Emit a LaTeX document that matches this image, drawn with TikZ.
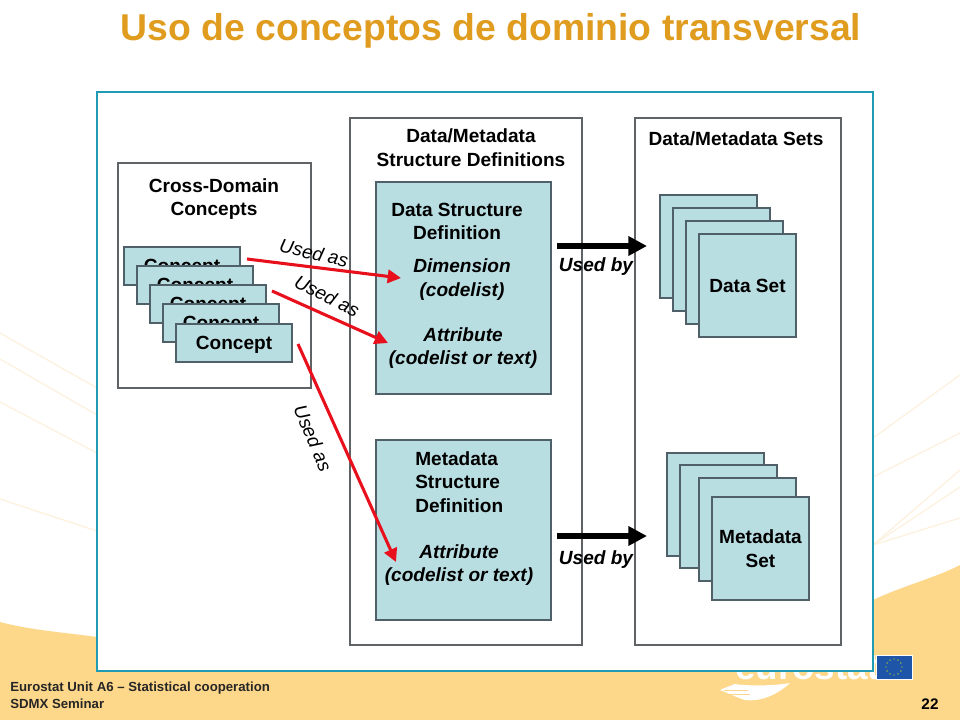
\documentclass[tikz,border=0pt]{standalone}
\usepackage{fontspec}
\setmainfont{Liberation Sans}
\usetikzlibrary{arrows.meta,shapes.geometric}
\definecolor{titleor}{HTML}{E09C1E}
\definecolor{bandor}{HTML}{FDD78A}
\definecolor{frameteal}{HTML}{1F9CB4}
\definecolor{boxfill}{HTML}{B9DEE2}
\definecolor{boxedge}{HTML}{4F6068}
\definecolor{outeredge}{HTML}{606366}
\definecolor{faint}{HTML}{FDF1DE}
\definecolor{eublue}{HTML}{1F55A8}
\definecolor{arrowred}{HTML}{E8101C}
\tikzset{
  x=.75pt,y=-.75pt,
  sized/.style 2 args={anchor=north west,inner sep=0pt,outer sep=0pt,minimum width=#1*.75pt,minimum height=#2*.75pt},
  outerbox/.style={draw=outeredge,line width=.85pt,fill=white},
  bluebox/.style={draw=boxedge,line width=.8pt,fill=boxfill,font=\fontsize{14.3}{17.6}\selectfont\bfseries,align=center,text depth=0pt},
  lbl/.style={font=\fontsize{14.3}{17.6}\selectfont\bfseries,align=center,inner sep=0pt},
  ilbl/.style={font=\fontsize{14.3}{17.6}\selectfont\bfseries\itshape,align=center,inner sep=0pt},
  usedas/.style={font=\fontsize{14.3}{16}\selectfont\itshape,inner sep=0pt},
  redarrow/.style={draw=arrowred,line width=2.3pt,-{Triangle[length=10pt,width=10pt]}},
  blackarrow/.style={draw=black,line width=4.5pt,-{Triangle[length=14pt,width=14pt]}},
  faintline/.style={draw=faint,line width=.9pt},
  footer/.style={font=\fontsize{9.9}{11}\selectfont\bfseries,anchor=west,inner sep=0pt,text=black!85},
}
\begin{document}
\begin{tikzpicture}
\useasboundingbox (0,0) rectangle (960,720);
\fill[white] (0,0) rectangle (960,720);
% background
\foreach \a/\b/\c/\d in {0/333/97/388,0/359/97/415,0/402/97/453,0/499/97/531,873/438/960/375,873/477/960/433,873/545/960/470,873/545/960/487,873/545/960/518}
  \draw[faintline] (\a,\b) -- (\c,\d);
\fill[bandor] (0,622) .. controls (30,630) and (60,632) .. (97,637) -- (873,600) .. controls (905,585) and (935,578) .. (960,565) -- (960,720) -- (0,720) -- cycle;
% eurostat logo
\node[anchor=base west,inner sep=0pt,text=white,font=\fontsize{27.5}{29}\selectfont\bfseries] (logo) at (735,679) {eurostat};
\fill[white] (790,683) .. controls (775,686) and (745,686) .. (735,684) .. controls (730,686) and (724,688) .. (720,690) .. controls (730,694) and (738,698) .. (745,700) .. controls (762,702) and (778,694) .. (790,683) -- cycle;
\draw[bandor,line width=.6pt] (724,690) -- (748,690) (729,694) -- (750,694);
\node[sized={36}{24},fill=eublue,draw=white,line width=.4pt] (flag) at (876,655) {};
\foreach \k in {0,30,...,330}
  \fill[yellow!75!green] (894,667) ++(\k:6pt) circle (.55pt);
% frame
\node[sized={776}{579},draw=frameteal,line width=.9pt,fill=white] (frame) at (97,92) {};
% title
\node[inner sep=0pt,anchor=base,text=titleor,font=\fontsize{28}{30}\selectfont\bfseries] (title) at (491,41) {Uso de conceptos de dominio transversal};
% containers
\node[sized={193}{225},outerbox] (cross) at (118,163) {};
\node[sized={232}{527},outerbox] (defs) at (350,118) {};
\node[sized={206}{527},outerbox] (sets) at (635,118) {};
\node[lbl] (crosst) at (214,199) {Cross-Domain\\Concepts};
\node[lbl] (defst) at (471,147.5) {Data/Metadata\\Structure Definitions};
\node[lbl] (setst) at (736,139) {Data/Metadata Sets};
% concepts
\node[sized={116}{38},bluebox] (c1) at (124,247) {Concept};
\node[sized={116}{38},bluebox] (c2) at (137,266) {Concept};
\node[sized={116}{38},bluebox] (c3) at (150,285) {Concept};
\node[sized={116}{38},bluebox] (c4) at (163,304) {Concept};
\node[sized={116}{38},bluebox] (c5) at (176,324) {Concept};
% definition boxes
\node[sized={175}{212},bluebox] (dsd) at (376,182) {};
\node[sized={175}{180},bluebox] (msd) at (376,440) {};
\node[lbl] (dsdt) at (457,221.5) {Data Structure\\Definition};
\node[ilbl] (dim) at (462,279.5) {Dimension\\(codelist)};
\node[ilbl] (attr) at (463,348) {Attribute\\(codelist or text)};
\node[lbl,align=left,anchor=north west] (msdt) at (415,451) {Metadata\\Structure\\Definition};
\node[ilbl] (attr2) at (459,565) {Attribute\\(codelist or text)};
% data set stack
\node[sized={97}{103},bluebox] (d1) at (660,195) {};
\node[sized={97}{103},bluebox] (d2) at (673,208) {};
\node[sized={97}{103},bluebox] (d3) at (686,221) {};
\node[sized={97}{103},bluebox] (d4) at (699,234) {Data Set};
% metadata stack
\node[sized={97}{103},bluebox] (m1) at (667,453) {};
\node[sized={97}{103},bluebox] (m2) at (680,465) {};
\node[sized={97}{103},bluebox] (m3) at (699,478) {};
\node[sized={97}{103},bluebox] (m4) at (712,497) {Metadata\\Set};
% connector ends
\coordinate (ra1) at (247,259);
\coordinate (rb1) at (401,278);
\coordinate (ra2) at (272,291);
\coordinate (rb2) at (388,343);
\coordinate (ra3) at (298,344);
\coordinate (rb3) at (396,562);
\coordinate (ba1) at (557,246);
\coordinate (bb1) at (647,246);
\coordinate (ba2) at (557,536);
\coordinate (bb2) at (647,536);
\draw[redarrow] (ra1) -- (rb1);
\draw[redarrow] (ra2) -- (rb2);
\draw[redarrow] (ra3) -- (rb3);
\draw[blackarrow] (ba1) -- (bb1);
\draw[blackarrow] (ba2) -- (bb2);
\node[usedas,rotate=-13] (ua1) at (314,253) {Used as};
\node[usedas,rotate=-27] (ua2) at (327,296) {Used as};
\node[usedas,rotate=-67] (ua3) at (313,438) {Used as};
\node[ilbl] (ub1) at (596,267) {Used by};
\node[ilbl] (ub2) at (596,560) {Used by};
% footer
\node[footer] (f1) at (10,688) {Eurostat Unit A6 – Statistical cooperation};
\node[footer] (f2) at (10,704) {SDMX Seminar};
\node[inner sep=0pt,font=\fontsize{11.5}{12}\selectfont\bfseries] (pg) at (930,704) {22};
\end{tikzpicture}
\end{document}
